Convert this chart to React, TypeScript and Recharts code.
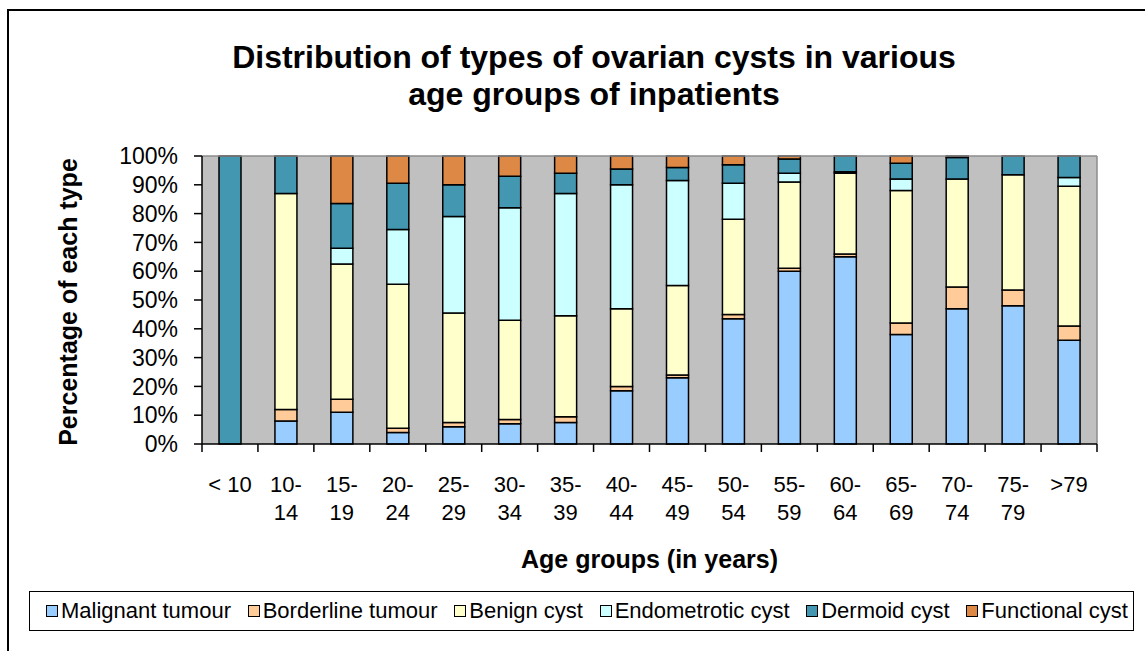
import React from 'react';
import { BarChart, Bar, XAxis, YAxis, CartesianGrid, ReferenceLine } from 'recharts';

const categories = ['< 10', '10-14', '15-19', '20-24', '25-29', '30-34', '35-39', '40-44', '45-49', '50-54', '55-59', '60-64', '65-69', '70-74', '75-79', '>79'];
const malignant = [0, 8, 11, 4, 6, 7, 7.5, 18.5, 23, 43.5, 60, 65, 38, 47, 48, 36];
const borderline = [0, 4, 4.5, 1.5, 1.5, 1.5, 2, 1.5, 1, 1.5, 1, 1, 4, 7.5, 5.5, 5];
const benign = [0, 75, 47, 50, 38, 34.5, 35, 27, 31, 33, 30, 28, 46, 37.5, 40, 48.5];
const endometriotic = [0, 0, 5.5, 19, 33.5, 39, 42.5, 43, 36.5, 12.5, 3, 0.5, 4, 0, 0, 3];
const dermoid = [100, 13, 15.5, 16, 11, 11, 7, 5.5, 4.5, 6.5, 5, 5.5, 5.5, 7.5, 6.5, 7.5];
const functional = [0, 0, 16.5, 9.5, 10, 7, 6, 4.5, 4, 3, 1, 0, 2.5, 0.5, 0, 0];

const seriesNames = ['Malignant tumour', 'Borderline tumour', 'Benign cyst', 'Endometrotic cyst', 'Dermoid cyst', 'Functional cyst'];
const seriesKeys = ['malignant', 'borderline', 'benign', 'endometriotic', 'dermoid', 'functional'];
const seriesColors = ['#99CCFF', '#FFCC99', '#FFFFCC', '#CCFFFF', '#4397B0', '#DD8844'];
const yTicks = [0, 10, 20, 30, 40, 50, 60, 70, 80, 90, 100];

const seriesValues = [malignant, borderline, benign, endometriotic, dermoid, functional];
const data = categories.map((c, i) => {
  const row: any = { age: c };
  seriesKeys.forEach((k, j) => { row[k] = seriesValues[j][i]; });
  return row;
});

const FONT = '"Liberation Sans", Arial, Helvetica, sans-serif';
const W = 1145;
const H = 651;
const PLOT_LEFT = 202;
const PLOT_RIGHT = 1097;
const PLOT_TOP = 156;
const PLOT_BOTTOM = 444;
const Y_AXIS_W = 70;
const X_AXIS_H = 130;
const BAND = (PLOT_RIGHT - PLOT_LEFT) / categories.length;

const XTick = (props: any) => {
  const { x, y, payload, index } = props;
  const label: string = payload.value;
  const dash = label.indexOf('-');
  const lines = dash >= 0 ? [label.slice(0, dash + 1), label.slice(dash + 1)] : [label];
  const half = BAND / 2;
  return (
    <g>
      <line x1={x - half} x2={x - half} y1={y - 8} y2={y} stroke="#000" strokeWidth={1.5} />
      {index === categories.length - 1 && (
        <line x1={x + half} x2={x + half} y1={y - 8} y2={y} stroke="#000" strokeWidth={1.5} />
      )}
      <text x={x} y={y} textAnchor="middle" fontSize={22} fontFamily={FONT} fill="#000">
        {lines.map((l, i) => (
          <tspan key={i} x={x} dy={i === 0 ? 40 : 28}>{l}</tspan>
        ))}
      </text>
    </g>
  );
};

const XLabel = (props: any) => {
  const vb = props.viewBox || {};
  const cx = vb.x + vb.width / 2;
  return (
    <text x={cx} y={PLOT_BOTTOM + 124} textAnchor="middle" fontSize={25} fontWeight="bold" fontFamily={FONT} fill="#000">
      Age groups (in years)
    </text>
  );
};

const YLabel = (props: any) => {
  const vb = props.viewBox || {};
  const cy = vb.y + vb.height / 2 + 2;
  const cx = 68;
  return (
    <text x={cx} y={cy} transform={`rotate(-90 ${cx} ${cy})`} textAnchor="middle" dominantBaseline="central" fontSize={25} fontWeight="bold" fontFamily={FONT} fill="#000">
      Percentage  of each type
    </text>
  );
};

export default function App() {
  return (
    <div style={{ position: 'absolute', left: 0, top: 0, width: W, height: H, overflow: 'hidden', background: '#fff', fontFamily: FONT }}>
      <div style={{ position: 'absolute', left: 7, top: 9, width: W, height: H, borderLeft: '2px solid #000', borderTop: '2px solid #000' }} />
      <div style={{ position: 'absolute', left: 94, top: 39, width: 1000, textAlign: 'center', fontSize: 32, fontWeight: 'bold', lineHeight: '37px', color: '#000' }}>
        Distribution of types of ovarian cysts in various<br />age groups of inpatients
      </div>
      <div style={{ position: 'absolute', left: 0, top: 0 }}>
        <BarChart
          width={W}
          height={H}
          data={data}
          margin={{ top: PLOT_TOP, left: PLOT_LEFT - Y_AXIS_W, right: W - PLOT_RIGHT, bottom: H - PLOT_BOTTOM - X_AXIS_H }}
          barSize={22}
        >
          <CartesianGrid horizontal={false} vertical={false} fill="#C0C0C0" />
          <XAxis
            dataKey="age"
            height={X_AXIS_H}
            tick={<XTick />}
            tickLine={{ stroke: 'none' }}
            tickSize={8}
            tickMargin={0}
            interval={0}
            axisLine={{ stroke: '#000', strokeWidth: 1.5 }}
            label={<XLabel />}
          />
          <YAxis
            width={Y_AXIS_W}
            domain={[0, 100]}
            ticks={yTicks}
            interval={0}
            tickFormatter={(v: number) => `${v}%`}
            tick={{ fill: '#000', fontSize: 23, fontFamily: FONT }}
            tickSize={8}
            tickMargin={16}
            tickLine={{ stroke: '#000', strokeWidth: 1.5 }}
            axisLine={{ stroke: '#000', strokeWidth: 1.5 }}
            label={<YLabel />}
          />
          <ReferenceLine y={100} stroke="#8C8C8C" strokeWidth={1.5} />
          <ReferenceLine x={categories[categories.length - 1]} position="end" stroke="#8C8C8C" strokeWidth={1.5} />
          {seriesKeys.map((k, j) => (
            <Bar key={k} dataKey={k} name={seriesNames[j]} stackId="a" fill={seriesColors[j]} stroke="#000" strokeWidth={1.5} isAnimationActive={false} />
          ))}
        </BarChart>
      </div>
      <div style={{ position: 'absolute', left: 29, top: 591, width: 1105, height: 40, boxSizing: 'border-box', border: '1.5px solid #000', display: 'flex', alignItems: 'center', justifyContent: 'space-between', paddingLeft: 16, paddingRight: 5, fontSize: 22, color: '#000', whiteSpace: 'nowrap' }}>
        {seriesNames.map((n, j) => (
          <div key={n} style={{ display: 'flex', alignItems: 'center' }}>
            <span style={{ display: 'inline-block', width: 10, height: 10, background: seriesColors[j], border: '1.5px solid #000', marginRight: 3 }} />
            <span>{n}</span>
          </div>
        ))}
      </div>
    </div>
  );
}
